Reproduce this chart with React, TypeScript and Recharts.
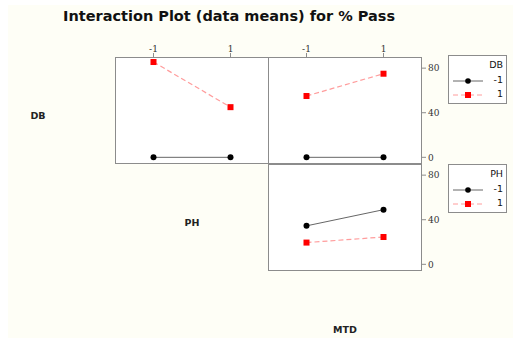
import React from 'react';
import { LineChart, Line, XAxis, YAxis } from 'recharts';

// factor levels and cell means
const levels = [-1, 1];
const yTicks = [0, 40, 80];
const dbLowByPH = [0, 0];
const dbHighByPH = [85.5, 45];
const dbLowByMTD = [0, 0];
const dbHighByMTD = [55, 75];
const phLowByMTD = [34.5, 49];
const phHighByMTD = [19.5, 24.5];

const BG = '#fefef6';
const BORDER = '#8c8c8c';
const SANS = '"DejaVu Sans", Verdana, sans-serif';
const SERIF = '"DejaVu Serif", "Liberation Serif", serif';
const Y_DOMAIN: [number, number] = [-6, 90];

const toRows = (low: number[], high: number[]) =>
  levels.map((lv, i) => ({ level: lv, low: low[i], high: high[i] }));

const CircleDot = (props: any) => {
  const { cx, cy, index } = props;
  return <circle key={`c${index}`} cx={cx} cy={cy} r={3} fill="#000" />;
};

const SquareDot = (props: any) => {
  const { cx, cy, index } = props;
  return <rect key={`s${index}`} x={cx - 3} y={cy - 3} width={6} height={6} fill="#ff0000" />;
};

interface PanelProps {
  left: number;
  top: number;
  w: number;
  h: number;
  data: { level: number; low: number; high: number }[];
  topAxis?: boolean;
  rightAxis?: boolean;
}

function Panel({ left, top, w, h, data, topAxis = false, rightAxis = false }: PanelProps) {
  const axisH = topAxis ? 20 : 0;
  const axisW = rightAxis ? 30 : 0;
  return (
    <>
      <div
        style={{
          position: 'absolute',
          left,
          top,
          width: w,
          height: h,
          boxSizing: 'border-box',
          background: '#fff',
          border: `1px solid ${BORDER}`,
        }}
      />
      <div style={{ position: 'absolute', left, top: top - axisH }}>
        <LineChart
          width={w + axisW}
          height={h + axisH}
          data={data}
          margin={{ top: 0, right: 0, bottom: 0, left: 0 }}
        >
          <XAxis
            dataKey="level"
            type="number"
            domain={[-2, 2]}
            ticks={levels}
            orientation="top"
            hide={!topAxis}
            height={axisH || 1}
            axisLine={false}
            tickSize={4}
            tickMargin={1}
            tickLine={{ stroke: BORDER }}
            tick={{ fill: '#333', fontSize: 9, fontFamily: SERIF }}
          />
          <YAxis
            type="number"
            domain={Y_DOMAIN}
            ticks={yTicks}
            orientation="right"
            hide={!rightAxis}
            width={axisW || 1}
            axisLine={false}
            tickSize={4}
            tickMargin={2}
            tickLine={{ stroke: BORDER }}
            tick={{ fill: '#333', fontSize: 9, fontFamily: SERIF }}
          />
          <Line
            dataKey="low"
            type="linear"
            stroke="#666"
            strokeWidth={1}
            dot={CircleDot}
            activeDot={false}
            isAnimationActive={false}
          />
          <Line
            dataKey="high"
            type="linear"
            stroke="#ff9c9c"
            strokeWidth={1.2}
            strokeDasharray="5 3"
            dot={SquareDot}
            activeDot={false}
            isAnimationActive={false}
          />
        </LineChart>
      </div>
    </>
  );
}

function LegendBox({ left, top, title }: { left: number; top: number; title: string }) {
  const rows = [
    { label: '-1', color: '#666', mark: '#000', dash: undefined, square: false },
    { label: '1', color: '#ff9c9c', mark: '#ff0000', dash: '5 3', square: true },
  ];
  return (
    <div
      style={{
        position: 'absolute',
        left,
        top,
        width: 59,
        height: 49,
        boxSizing: 'border-box',
        background: '#fff',
        border: `1px solid ${BORDER}`,
        fontFamily: SANS,
        fontSize: 9.5,
        color: '#111',
      }}
    >
      <div style={{ position: 'absolute', right: 3, top: 3 }}>{title}</div>
      {rows.map((r, i) => (
        <div key={r.label} style={{ position: 'absolute', left: 0, top: 19 + i * 14, width: 57, height: 12 }}>
          <svg width={36} height={12} style={{ position: 'absolute', left: 4, top: 0 }}>
            <line x1={0} y1={6} x2={30} y2={6} stroke={r.color} strokeWidth={1} strokeDasharray={r.dash} />
            {r.square ? (
              <rect x={12} y={3} width={6} height={6} fill={r.mark} />
            ) : (
              <circle cx={15} cy={6} r={2.8} fill={r.mark} />
            )}
          </svg>
          <div style={{ position: 'absolute', right: 3, top: -1 }}>{r.label}</div>
        </div>
      ))}
    </div>
  );
}

const labelStyle: React.CSSProperties = {
  position: 'absolute',
  fontFamily: SANS,
  fontWeight: 'bold',
  fontSize: 9.5,
  color: '#222',
  transform: 'translate(-50%, -50%)',
  whiteSpace: 'nowrap',
};

export default function App() {
  return (
    <div style={{ position: 'absolute', left: 0, top: 0, width: 515, height: 349, background: '#fff', overflow: 'hidden' }}>
      <div style={{ position: 'absolute', left: 8, top: 5, width: 505, height: 333, background: BG }} />
      <div
        style={{
          position: 'absolute',
          left: 63,
          top: 8,
          fontFamily: SANS,
          fontWeight: 'bold',
          fontSize: 14.5,
          color: '#111',
          whiteSpace: 'nowrap',
        }}
      >
        Interaction Plot (data means) for % Pass
      </div>

      <Panel left={115} top={57} w={154} h={107} data={toRows(dbLowByPH, dbHighByPH)} topAxis />
      <Panel left={268} top={57} w={154} h={107} data={toRows(dbLowByMTD, dbHighByMTD)} topAxis rightAxis />
      <Panel left={268} top={164} w={154} h={107} data={toRows(phLowByMTD, phHighByMTD)} rightAxis />

      <LegendBox left={448} top={55} title="DB" />
      <LegendBox left={448} top={164} title="PH" />

      <div style={{ ...labelStyle, left: 38, top: 115 }}>DB</div>
      <div style={{ ...labelStyle, left: 192, top: 222 }}>PH</div>
      <div style={{ ...labelStyle, left: 345, top: 329 }}>MTD</div>
    </div>
  );
}
